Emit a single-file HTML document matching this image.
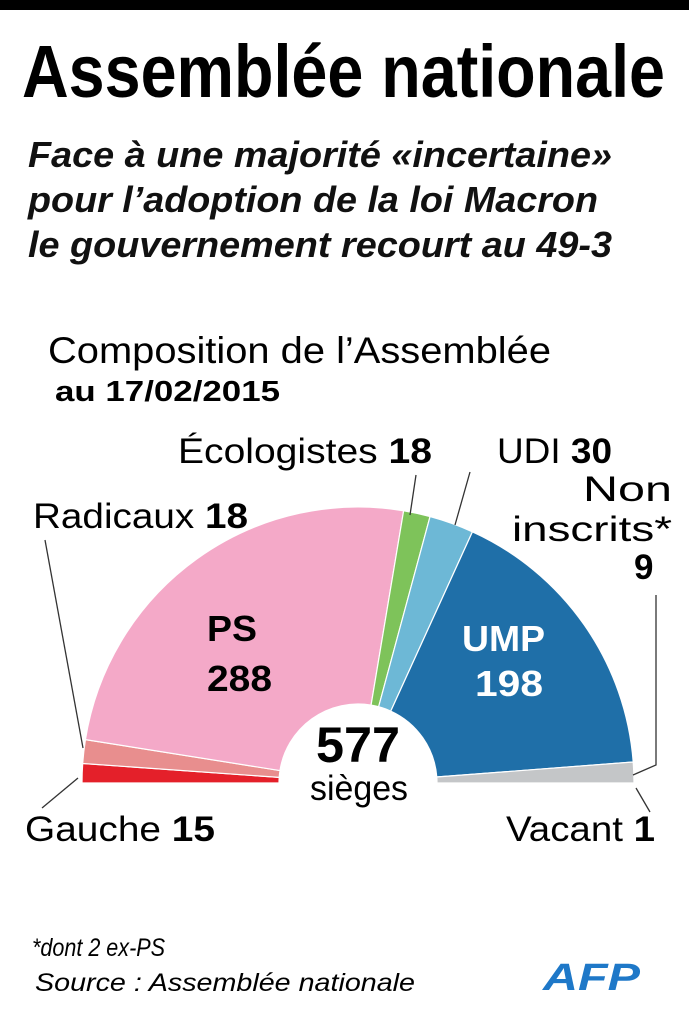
<!DOCTYPE html>
<html><head><meta charset="utf-8"><style>
html,body{margin:0;padding:0;background:#fff;}
svg{display:block;font-family:"Liberation Sans",sans-serif;}
</style></head><body>
<svg id="s" width="689" height="1024" viewBox="0 0 689 1024" xmlns="http://www.w3.org/2000/svg">
<rect x="0" y="0" width="689" height="10" fill="#000"/>
<text x="22" y="97" font-size="74" font-weight="bold" textLength="643" lengthAdjust="spacingAndGlyphs">Assemblée nationale</text>
<g font-size="36" font-style="italic" font-weight="bold" fill="#111">
<text x="28" y="167" textLength="584" lengthAdjust="spacingAndGlyphs">Face à une majorité «incertaine»</text>
<text x="28" y="212" textLength="570" lengthAdjust="spacingAndGlyphs">pour l’adoption de la loi Macron</text>
<text x="28" y="257" textLength="584" lengthAdjust="spacingAndGlyphs">le gouvernement recourt au <tspan>49-3</tspan></text>
</g>
<text x="48" y="363" font-size="37" textLength="503" lengthAdjust="spacingAndGlyphs">Composition de l’Assemblée</text>
<text x="55" y="401" font-size="29" font-weight="bold" textLength="225" lengthAdjust="spacingAndGlyphs">au 17/02/2015</text>
<g id="wedges"></g>
<g stroke="#333" stroke-width="1.3" fill="none">
<polyline points="45,540 83,748"/>
<polyline points="42,808 78,778"/>
<polyline points="416,475 410,515"/>
<polyline points="470,472 455,525"/>
<polyline points="656,595 656,765 633,775"/>
<polyline points="636,788 650,812"/>
</g>
<g font-size="35">
<text x="178" y="463" textLength="254" lengthAdjust="spacingAndGlyphs">Écologistes <tspan font-weight="bold">18</tspan></text>
<text x="497" y="463" textLength="115" lengthAdjust="spacingAndGlyphs">UDI <tspan font-weight="bold">30</tspan></text>
<text x="583" y="501" textLength="89" lengthAdjust="spacingAndGlyphs">Non</text>
<text x="512" y="541" textLength="160" lengthAdjust="spacingAndGlyphs">inscrits*</text>
<text x="634" y="579" font-weight="bold">9</text>
<text x="33" y="528" textLength="215" lengthAdjust="spacingAndGlyphs">Radicaux <tspan font-weight="bold">18</tspan></text>
<text x="25" y="841" textLength="190" lengthAdjust="spacingAndGlyphs">Gauche <tspan font-weight="bold">15</tspan></text>
<text x="506" y="841" textLength="149" lengthAdjust="spacingAndGlyphs">Vacant <tspan font-weight="bold">1</tspan></text>
<text x="310" y="800" textLength="98" lengthAdjust="spacingAndGlyphs">sièges</text>
</g>
<g font-weight="bold" font-size="36">
<text x="207" y="641" textLength="50" lengthAdjust="spacingAndGlyphs">PS</text>
<text x="207" y="691" textLength="65" lengthAdjust="spacingAndGlyphs">288</text>
<text x="462" y="651" fill="#fff" textLength="83" lengthAdjust="spacingAndGlyphs">UMP</text>
<text x="475" y="696" fill="#fff" textLength="68" lengthAdjust="spacingAndGlyphs">198</text>
<text x="316" y="762" font-size="50" textLength="84" lengthAdjust="spacingAndGlyphs">577</text>
</g>
<g font-size="25" font-style="italic">
<text x="32" y="956" textLength="133" lengthAdjust="spacingAndGlyphs">*dont 2 ex-PS</text>
<text x="35" y="991" textLength="380" lengthAdjust="spacingAndGlyphs">Source : Assemblée nationale</text>
</g>
<text x="543" y="990" font-size="38" font-weight="bold" font-style="italic" fill="#1e78c8" textLength="97" lengthAdjust="spacingAndGlyphs">AFP</text>
</svg>
<script>
var data=[[13,"#e4202a"],[16,"#e88e8e"],[290,"#f4a9c8"],[18,"#7ec35a"],[30,"#6db8d6"],[196,"#1f6fa8"],[14,"#c4c6c8"]];
var cx=358,cy=783,R=276,r=79,a=0,g=document.getElementById("wedges"),h="";
function p(rad,t){return [(cx-rad*Math.cos(t)).toFixed(2),(cy-rad*Math.sin(t)).toFixed(2)];}
data.forEach(function(d){var t0=a*Math.PI/577,t1=(a+d[0])*Math.PI/577;a+=d[0];
var A=p(R,t0),B=p(R,t1),C=p(r,t1),D=p(r,t0);
h+='<path d="M'+A+' A'+R+' '+R+' 0 0 1 '+B+' L'+C+' A'+r+' '+r+' 0 0 0 '+D+'Z" fill="'+d[1]+'" stroke="#fff" stroke-width="1.2"/>';});
g.innerHTML=h;
</script>
</body></html>
